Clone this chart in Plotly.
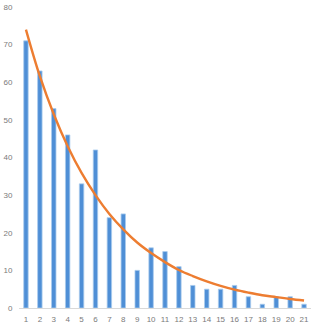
import plotly.graph_objects as go

categories = list(range(1, 22))
counts = [71, 63, 53, 46, 33, 42, 24, 25, 10, 16, 15, 11, 6, 5, 5, 6, 3, 1, 3, 3, 1]
trend = [74, 61.6, 51.5, 43.0, 35.9, 30.0, 25.0, 20.9, 17.4, 14.6, 12.2, 10.1,
         8.5, 7.1, 5.9, 4.9, 4.1, 3.4, 2.9, 2.4, 2.0]
y_ticks = [0, 10, 20, 30, 40, 50, 60, 70, 80]

fig = go.Figure()
fig.add_trace(go.Bar(
    x=categories, y=counts, width=0.32,
    marker=dict(color="#4F8FD6", line=dict(color="#A9CBEE", width=0.8)),
    showlegend=False,
))
fig.add_trace(go.Scatter(
    x=categories, y=trend, mode="lines", line_shape="spline",
    line=dict(color="#ED7D31", width=2.4), showlegend=False,
))

fig.update_layout(
    width=320, height=325,
    margin=dict(l=19, r=9, t=7, b=17, autoexpand=False),
    paper_bgcolor="white", plot_bgcolor="white",
    font=dict(family="Liberation Sans, Arial, sans-serif", size=8, color="#7a7a7a"),
)
fig.update_xaxes(
    range=[0.5, 21.5], tickmode="array", tickvals=categories,
    ticktext=[str(c) for c in categories],
    showgrid=False, zeroline=False, showline=True, linecolor="#D9D9D9", linewidth=1,
    ticks="outside", ticklen=3, tickcolor="rgba(0,0,0,0)",
    automargin=False, fixedrange=True,
)
fig.update_yaxes(
    range=[0, 80], tickmode="array", tickvals=y_ticks,
    showgrid=False, zeroline=False, showline=False,
    ticks="outside", ticklen=4, tickcolor="rgba(0,0,0,0)",
    automargin=False, fixedrange=True,
)

fig.write_html("out.html", config={"displayModeBar": False})
